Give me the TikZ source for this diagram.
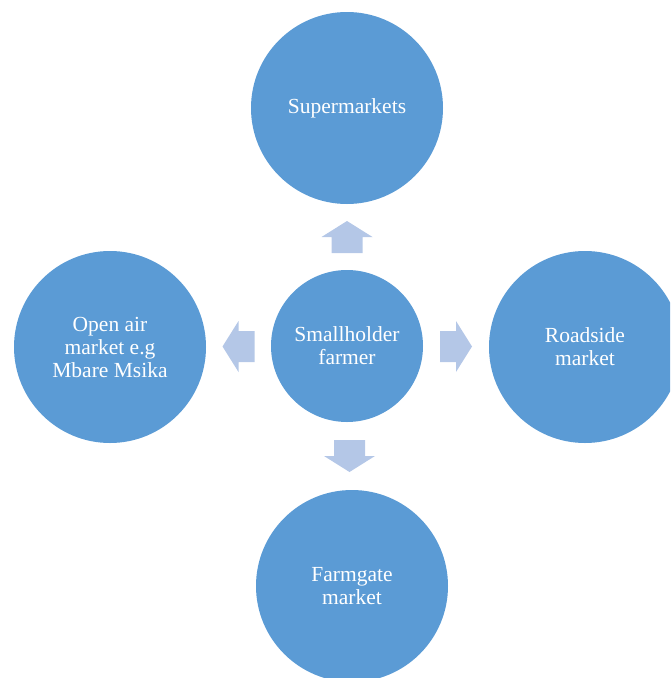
\documentclass[tikz,border=0pt]{standalone}
\usepackage{fontspec}
\setmainfont{Liberation Serif}
\usetikzlibrary{calc}

\definecolor{marketblue}{HTML}{5B9BD5}
\definecolor{arrowblue}{HTML}{B4C7E7}

\tikzset{
	market/.style = {circle, fill=marketblue, text=white, align=center,
			minimum size=192pt, inner sep=0pt,
			font=\fontsize{21.5pt}{23pt}\selectfont},
	pics/flowarrow/.style = {code = {
				\fill[arrowblue] (-16,-15.5) -- (-16,15.5) -- (0,15.5) -- (0,25.5)
				-- (16,0) -- (0,-25.5) -- (0,-15.5) -- cycle;
			}},
}

\begin{document}
\begin{tikzpicture}[x=1pt, y=-1pt]
			\clip (0,0) rectangle (670,678);
			\node[market, minimum size=152pt] (hub) at (347,346) {Smallholder\\farmer};
			\node[market] (superm) at (347,108) {Supermarkets};
			\node[market] (openair) at (110,347) {Open air\\market e.g\\Mbare Msika};
			\node[market] (roadside) at (585,347) {Roadside\\market};
			\node[market] (farmgate) at (352,586) {Farmgate\\market};
			% arrows from the farmer to each market
			\pic[rotate=90] at ($(hub.north)!0.5!(superm.south)$) {flowarrow};
			\pic[rotate=180] at ($(hub.west)!0.5!(openair.east)$) {flowarrow};
			\pic at ($(hub.east)!0.5!(roadside.west)$) {flowarrow};
			\pic[rotate=-90] at ($(hub.south)!0.5!(farmgate.north)$) {flowarrow};
		\end{tikzpicture}
\end{document}
